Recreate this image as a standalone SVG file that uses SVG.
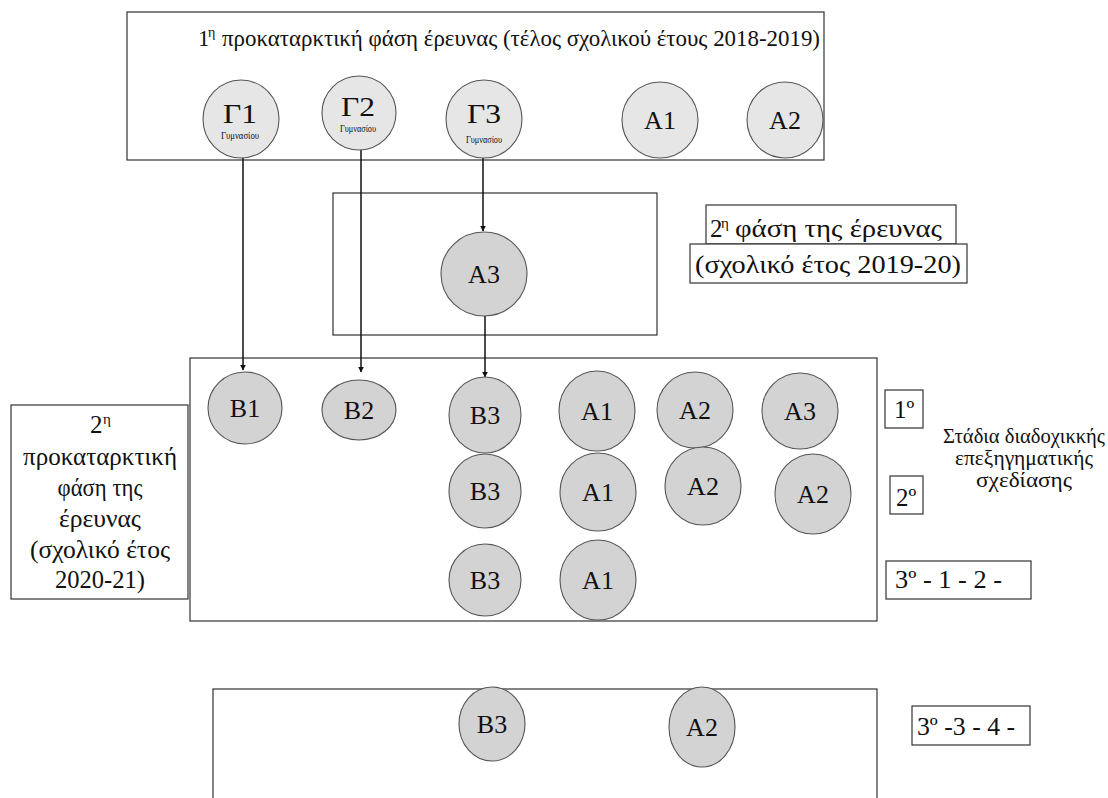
<svg xmlns="http://www.w3.org/2000/svg" width="1108" height="798" viewBox="0 0 1108 798" font-family="'Liberation Serif', 'DejaVu Serif', serif">
  <style>
    text { font-family: "Liberation Serif", "DejaVu Serif", serif; fill: #111; }
    .frame { fill: none; stroke: #333; stroke-width: 1.2; }
    .label { fill: #fff; stroke: #333; stroke-width: 1.2; }
    .light { fill: #e6e6e6; stroke: #555; stroke-width: 1.1; }
    .node { fill: #d3d3d3; stroke: #555; stroke-width: 1.1; }
    .nt { font-size: 26px; text-anchor: middle; }
    .gt { font-size: 27px; text-anchor: middle; }
    .sub { font-size: 10px; text-anchor: middle; }
    .edge { fill: none; stroke: #111; stroke-width: 1.5; marker-end: url(#arrow); }
  </style>
  <defs>
    <marker id="arrow" viewBox="0 0 10 10" refX="9" refY="5" markerWidth="6" markerHeight="6" orient="auto" markerUnits="userSpaceOnUse">
      <path d="M0,0 L10,5 L0,10 z" fill="#111"/>
    </marker>
  </defs>

  <!-- phase frames -->
  <g id="phase1">
    <rect class="frame" x="127" y="12" width="697" height="148"/>
    <text x="198" y="46" font-size="23">1</text>
    <text x="208" y="37" font-size="14">η</text>
    <text x="222" y="46" font-size="23" textLength="598" lengthAdjust="spacingAndGlyphs">προκαταρκτική φάση έρευνας (τέλος σχολικού έτους 2018-2019)</text>
  </g>
  <g id="phase2">
    <rect class="frame" x="333" y="193" width="324" height="142"/>
  </g>
  <g id="phase3">
    <rect class="frame" x="190" y="358" width="687" height="263"/>
  </g>
  <g id="phase4">
    <rect class="frame" x="213" y="689" width="664" height="130"/>
  </g>

  <!-- side labels -->
  <g id="label-phase2">
    <rect class="label" x="706" y="205" width="250" height="39"/>
    <rect class="label" x="690" y="244" width="277" height="39"/>
    <text x="710" y="237" font-size="25">2</text>
    <text x="721" y="228" font-size="15">η</text>
    <text x="735" y="237" font-size="25" textLength="207" lengthAdjust="spacingAndGlyphs">φάση της έρευνας</text>
    <text x="695" y="273" font-size="25" textLength="266" lengthAdjust="spacingAndGlyphs">(σχολικό έτος 2019-20)</text>
  </g>
  <g id="label-pre2">
    <rect class="label" x="11" y="405" width="177" height="194"/>
    <text x="90" y="433" font-size="25">2</text>
    <text x="103" y="424" font-size="15">η</text>
    <g font-size="25" text-anchor="middle">
      <text x="100" y="465" textLength="154" lengthAdjust="spacingAndGlyphs">προκαταρκτική</text>
      <text x="100" y="496" textLength="85" lengthAdjust="spacingAndGlyphs">φάση της</text>
      <text x="100" y="527" textLength="82" lengthAdjust="spacingAndGlyphs">έρευνας</text>
      <text x="100" y="558" textLength="140" lengthAdjust="spacingAndGlyphs">(σχολικό έτος</text>
      <text x="100" y="588" textLength="90" lengthAdjust="spacingAndGlyphs">2020-21)</text>
    </g>
  </g>
  <g id="stage1">
    <rect class="label" x="885" y="390" width="38" height="38"/>
    <text x="894" y="418" font-size="25">1º</text>
  </g>
  <g id="stage2">
    <rect class="label" x="890" y="476" width="33" height="38"/>
    <text x="896" y="506" font-size="25">2º</text>
  </g>
  <g id="stage3a">
    <rect class="label" x="886" y="561" width="145" height="38"/>
    <text x="895" y="588" font-size="25" textLength="107" lengthAdjust="spacingAndGlyphs">3º - 1 - 2 -</text>
  </g>
  <g id="stage3b">
    <rect class="label" x="912" y="706" width="118" height="39"/>
    <text x="917" y="735" font-size="25" textLength="98" lengthAdjust="spacingAndGlyphs">3º -3 - 4 -</text>
  </g>
  <g id="stages-caption" font-size="20" text-anchor="middle">
    <text x="1024" y="443" textLength="162" lengthAdjust="spacingAndGlyphs">Στάδια διαδοχικκής</text>
    <text x="1024" y="465" textLength="138" lengthAdjust="spacingAndGlyphs">επεξηγηματικής</text>
    <text x="1024" y="487" textLength="96" lengthAdjust="spacingAndGlyphs">σχεδίασης</text>
  </g>

  <!-- connectors -->
  <g id="connectors">
    <line class="edge" x1="243" y1="158" x2="243" y2="370"/>
    <line class="edge" x1="361" y1="150" x2="361" y2="372"/>
    <line class="edge" x1="483" y1="158" x2="483" y2="231"/>
    <line class="edge" x1="485" y1="316" x2="485" y2="377"/>
  </g>

  <!-- phase 1 nodes -->
  <g id="G1"><ellipse class="light" cx="241" cy="119" rx="38" ry="39"/><text class="gt" x="240" y="123" textLength="34" lengthAdjust="spacingAndGlyphs">Γ1</text><text class="sub" x="240" y="139" textLength="38" lengthAdjust="spacingAndGlyphs">Γυμνασίου</text></g>
  <g id="G2"><ellipse class="light" cx="359" cy="113" rx="37" ry="37"/><text class="gt" x="358" y="116" textLength="34" lengthAdjust="spacingAndGlyphs">Γ2</text><text class="sub" x="358" y="132" font-size="9" textLength="36" lengthAdjust="spacingAndGlyphs">Γυμνασίου</text></g>
  <g id="G3"><ellipse class="light" cx="484" cy="119" rx="38" ry="39"/><text class="gt" x="484" y="123" textLength="34" lengthAdjust="spacingAndGlyphs">Γ3</text><text class="sub" x="484" y="143" font-size="9" textLength="36" lengthAdjust="spacingAndGlyphs">Γυμνασίου</text></g>
  <g id="A1-p1"><ellipse class="light" cx="660" cy="120" rx="38" ry="38"/><text class="nt" x="660" y="129">A1</text></g>
  <g id="A2-p1"><ellipse class="light" cx="785" cy="120" rx="38" ry="38"/><text class="nt" x="785" y="129">A2</text></g>

  <!-- phase 2 node -->
  <g id="A3-p2"><ellipse class="node" cx="484" cy="274" rx="43" ry="42"/><text class="nt" x="484" y="283">A3</text></g>

  <!-- phase 3 nodes -->
  <g id="B1"><ellipse class="node" cx="245" cy="408" rx="37" ry="36"/><text class="nt" x="245" y="417">B1</text></g>
  <g id="B2"><ellipse class="node" cx="359" cy="410" rx="37" ry="30"/><text class="nt" x="359" y="419">B2</text></g>
  <g id="B3-s1"><ellipse class="node" cx="485" cy="415" rx="36" ry="38"/><text class="nt" x="485" y="424">B3</text></g>
  <g id="A1-s1"><ellipse class="node" cx="597" cy="411" rx="38" ry="40"/><text class="nt" x="597" y="420">A1</text></g>
  <g id="A2-s1"><ellipse class="node" cx="695" cy="410" rx="38" ry="38"/><text class="nt" x="695" y="419">A2</text></g>
  <g id="A3-s1"><ellipse class="node" cx="800" cy="411" rx="38" ry="38"/><text class="nt" x="800" y="420">A3</text></g>
  <g id="B3-s2"><ellipse class="node" cx="485" cy="491" rx="36" ry="37"/><text class="nt" x="485" y="500">B3</text></g>
  <g id="A1-s2"><ellipse class="node" cx="598" cy="492" rx="38" ry="39"/><text class="nt" x="598" y="501">A1</text></g>
  <g id="A2-s2"><ellipse class="node" cx="703" cy="486" rx="38" ry="39"/><text class="nt" x="703" y="495">A2</text></g>
  <g id="A2-s2b"><ellipse class="node" cx="813" cy="494" rx="38" ry="40"/><text class="nt" x="813" y="503">A2</text></g>
  <g id="B3-s3"><ellipse class="node" cx="485" cy="580" rx="36" ry="36"/><text class="nt" x="485" y="589">B3</text></g>
  <g id="A1-s3"><ellipse class="node" cx="598" cy="580" rx="38" ry="40"/><text class="nt" x="598" y="589">A1</text></g>

  <!-- phase 4 nodes -->
  <g id="B3-p4"><ellipse class="node" cx="492" cy="724" rx="33" ry="37"/><text class="nt" x="492" y="733">B3</text></g>
  <g id="A2-p4"><ellipse class="node" cx="702" cy="727" rx="33" ry="40"/><text class="nt" x="702" y="736">A2</text></g>
</svg>
